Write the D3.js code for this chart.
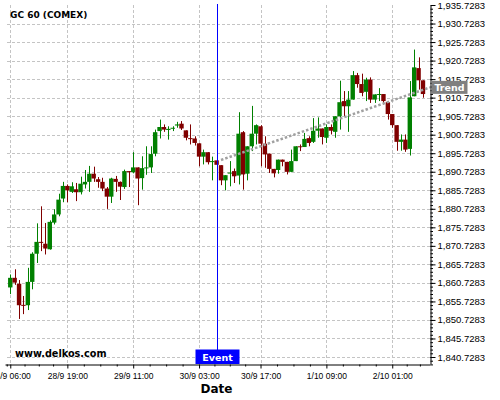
<!DOCTYPE html>
<html>
<head>
<meta charset="utf-8">
<script src="https://cdn.jsdelivr.net/npm/d3@7"></script>
<style>
  body { margin: 0; background: #fff; }
  svg { display: block; font-family: "DejaVu Sans", sans-serif; }
</style>
</head>
<body>
<div id="chart"></div>
<script>
// hourly candles, GC 60 (COMEX)
const open  = [1859.5,1862.1,1860.5,1854.8,1854.7,1861.0,1868.6,1871.8,1871.3,1869.8,1877.0,1879.2,1883.5,1886.9,1885.3,1886.0,1885.2,1887.3,1888.0,1890.2,1888.7,1888.0,1886.2,1884.0,1888.8,1888.0,1886.6,1890.9,1890.6,1891.9,1889.0,1891.7,1891.9,1895.6,1901.7,1902.8,1902.0,1902.4,1903.2,1903.7,1901.9,1899.8,1899.7,1898.4,1894.8,1896.0,1893.4,1893.8,1892.5,1888.4,1890.3,1890.9,1889.7,1901.4,1890.2,1897.6,1901.0,1903.0,1898.3,1895.6,1891.5,1891.2,1894.0,1893.4,1890.7,1893.6,1897.6,1897.4,1899.8,1898.8,1901.8,1902.4,1899.9,1902.8,1901.5,1905.7,1909.8,1908.4,1910.2,1916.8,1914.4,1912.3,1915.6,1910.2,1911.5,1911.7,1909.5,1906.3,1903.3,1898.8,1899.4,1896.9,1911.1,1918.7,1915.4];
const high  = [1863.0,1864.4,1861.5,1857.2,1864.8,1869.0,1876.8,1881.4,1876.9,1877.6,1880.6,1884.8,1888.0,1887.3,1887.9,1887.7,1889.4,1891.2,1892.3,1892.1,1889.3,1889.1,1886.6,1889.1,1889.6,1888.1,1891.3,1890.9,1896.0,1891.9,1894.9,1897.6,1897.6,1902.1,1904.8,1903.5,1903.0,1903.0,1904.2,1904.4,1901.9,1903.5,1900.3,1898.4,1896.7,1896.0,1894.8,1893.8,1892.5,1889.8,1893.6,1891.6,1906.8,1901.7,1897.6,1908.5,1903.5,1903.3,1900.3,1895.6,1891.5,1894.0,1894.0,1893.4,1896.7,1897.6,1898.1,1901.2,1900.3,1905.2,1905.4,1902.4,1903.5,1903.5,1905.7,1915.3,1912.5,1912.5,1917.9,1917.4,1917.2,1916.1,1916.2,1911.6,1913.3,1911.7,1909.5,1906.3,1903.3,1900.8,1900.8,1915.2,1923.7,1921.6,1915.4];
const low   = [1857.7,1860.2,1851.0,1852.3,1853.4,1859.0,1866.1,1869.3,1868.4,1869.7,1876.5,1878.7,1882.5,1882.5,1885.0,1882.8,1884.6,1886.2,1885.3,1888.0,1886.4,1885.5,1880.7,1882.3,1885.3,1883.1,1886.1,1886.6,1890.3,1881.7,1885.9,1889.9,1890.4,1894.9,1899.7,1901.5,1899.4,1901.7,1902.6,1902.0,1899.2,1898.1,1897.8,1892.2,1892.7,1892.7,1888.4,1892.5,1887.1,1885.7,1886.8,1887.7,1887.3,1885.9,1888.4,1896.3,1898.1,1892.2,1891.8,1890.4,1889.2,1890.2,1892.2,1890.0,1890.6,1893.6,1896.3,1897.4,1897.6,1898.5,1899.9,1898.1,1898.5,1900.8,1899.9,1902.1,1905.7,1901.5,1910.2,1913.4,1911.1,1909.8,1909.3,1909.3,1909.8,1908.9,1904.8,1902.6,1896.4,1896.4,1896.1,1895.1,1911.1,1912.9,1910.7];
const close = [1862.1,1860.8,1854.7,1854.6,1861.0,1868.6,1871.8,1871.6,1870.0,1877.2,1879.2,1883.2,1886.9,1885.7,1886.8,1885.2,1887.5,1888.0,1890.2,1888.9,1888.0,1886.2,1884.0,1888.9,1888.0,1886.7,1890.9,1890.6,1891.9,1888.9,1891.7,1891.9,1895.5,1901.4,1902.8,1902.1,1902.3,1902.6,1903.5,1902.4,1899.9,1899.6,1898.5,1894.8,1896.0,1893.3,1893.6,1892.6,1888.4,1889.8,1890.5,1889.5,1901.0,1890.0,1897.6,1901.0,1903.3,1898.3,1895.4,1891.5,1890.3,1894.0,1893.4,1890.7,1893.6,1897.6,1897.4,1899.6,1898.5,1901.8,1902.4,1900.1,1902.8,1901.8,1905.7,1909.5,1908.4,1910.2,1916.8,1914.4,1912.0,1915.6,1910.2,1911.6,1911.7,1909.8,1906.3,1903.3,1898.8,1899.4,1896.7,1910.8,1918.9,1915.4,1911.7];

// x axis labels sit on candle indices
const xLabelIdx = [0, 13, 28, 43, 57, 72, 87];
const xLabels = ["28/9 06:00", "28/9 19:00", "29/9 11:00", "30/9 03:00", "30/9 17:00", "1/10 09:00", "2/10 01:00"];
const xMinorIdx = [-0.8, 3.25, 6.5, 9.75, 16.75, 20.5, 24.25, 31.75, 35.5, 39.25, 46.5, 50, 53.5, 60.75, 64.5, 68.25, 75.75, 79.5, 83.25, 90.3, 93.3];

const yTicks = d3.range(0, 20).map(k => 1840.7283 + 5 * k);
const yMinor = d3.range(0, 97).map(k => 1838.7283 + k);

const eventIdx = 47;
const trendIdx = [48, 95.6];
const trendVal = [1893.9, 1913.5];

const width = 500, height = 400;
const plot = { left: 5, right: 430, top: 5, bottom: 364 };

const svg = d3.select("#chart").append("svg")
    .attr("width", width)
    .attr("height", height);

const x = d3.scaleLinear().domain([-1.2, 95.6]).range([plot.left, plot.right]);
const y = d3.scaleLinear().domain([1838.84, 1935.73]).range([plot.bottom, plot.top]);

// grid
const grid = svg.append("g")
    .attr("stroke", "#c4c4c4")
    .attr("stroke-width", 1)
    .attr("shape-rendering", "crispEdges")
    .attr("stroke-dasharray", "3,2");

grid.selectAll("line.h")
    .data(yTicks.slice(0, -1))
    .enter().append("line")
    .attr("x1", 7).attr("x2", plot.right)
    .attr("y1", d => Math.round(y(d)) + 0.5)
    .attr("y2", d => Math.round(y(d)) + 0.5);

grid.selectAll("line.v")
    .data(xLabelIdx)
    .enter().append("line")
    .attr("x1", d => Math.round(x(d)) + 0.5)
    .attr("x2", d => Math.round(x(d)) + 0.5)
    .attr("y1", plot.top).attr("y2", plot.bottom);

// candles
const data = open.map((o, i) => ({ i: i, o: o, h: high[i], l: low[i], c: close[i] }));
const bw = 4.4;
const candles = svg.append("g").selectAll("g")
    .data(data)
    .enter().append("g")
    .attr("fill", d => d.c >= d.o ? "#008000" : "#800000")
    .attr("stroke", d => d.c >= d.o ? "#008000" : "#800000");

candles.append("line")
    .attr("x1", d => Math.round(x(d.i)) + 0.5)
    .attr("x2", d => Math.round(x(d.i)) + 0.5)
    .attr("y1", d => y(d.h))
    .attr("y2", d => y(d.l))
    .attr("stroke-width", 1);

candles.append("rect")
    .attr("stroke", "none")
    .attr("x", d => x(d.i) - bw / 2)
    .attr("width", bw)
    .attr("y", d => y(Math.max(d.o, d.c)))
    .attr("height", d => Math.max(1, Math.abs(y(d.o) - y(d.c))));

// trend line
svg.append("line")
    .attr("x1", x(trendIdx[0])).attr("y1", y(trendVal[0]))
    .attr("x2", x(trendIdx[1])).attr("y2", y(trendVal[1]))
    .attr("stroke", "#a0a0a0")
    .attr("stroke-width", 2.5)
    .attr("stroke-dasharray", "2.5,2");

// event line
svg.append("rect")
    .attr("x", Math.round(x(eventIdx)))
    .attr("y", 4)
    .attr("width", 1)
    .attr("height", plot.bottom - 4)
    .attr("fill", "#0000ff");

// axes
const yAxis = d3.axisRight(y)
    .tickValues(yTicks)
    .tickSize(5)
    .tickSizeOuter(0)
    .tickPadding(2)
    .tickFormat(d3.format(",.4f"));

const yAxisG = svg.append("g")
    .attr("transform", `translate(${plot.right + 0.5},0)`)
    .call(yAxis);
yAxisG.selectAll("text").attr("font-size", "9.5px").attr("fill", "#000");

svg.append("g")
    .attr("transform", `translate(${plot.right + 0.5},0)`)
    .call(d3.axisRight(y).tickValues(yMinor).tickSize(2.5).tickSizeOuter(0).tickFormat(""))
    .call(g => g.select(".domain").remove());

const xAxis = d3.axisBottom(x)
    .tickValues(xLabelIdx)
    .tickSize(4)
    .tickSizeOuter(0)
    .tickPadding(4)
    .tickFormat((d, i) => xLabels[i]);

const xAxisG = svg.append("g")
    .attr("transform", `translate(0,${plot.bottom + 0.5})`)
    .call(xAxis);
xAxisG.selectAll("text").attr("font-size", "8.5px").attr("fill", "#000");

svg.append("g")
    .attr("transform", `translate(0,${plot.bottom + 0.5})`)
    .call(d3.axisBottom(x).tickValues(xMinorIdx).tickSize(2).tickFormat(""))
    .call(g => g.select(".domain").remove());

// event label
const ex = Math.round(x(eventIdx)) + 0.5;
svg.append("rect")
    .attr("x", ex - 22).attr("y", 349.5)
    .attr("width", 44).attr("height", 14.5)
    .attr("fill", "#0000ff");
svg.append("text")
    .attr("x", ex).attr("y", 360.5)
    .attr("text-anchor", "middle")
    .attr("font-size", "9.5px")
    .attr("font-weight", "bold")
    .attr("fill", "#fff")
    .text("Event");

// trend label
const ty = y(trendVal[1]);
svg.append("rect")
    .attr("x", 431.5).attr("y", ty - 6.5)
    .attr("width", 36).attr("height", 13)
    .attr("fill", "#808080");
svg.append("text")
    .attr("x", 449.5).attr("y", ty + 3.5)
    .attr("text-anchor", "middle")
    .attr("font-size", "9.5px")
    .attr("font-weight", "bold")
    .attr("fill", "#fff")
    .text("Trend");

// titles
svg.append("text")
    .attr("x", 10).attr("y", 18)
    .attr("font-size", "9px")
    .attr("font-weight", "bold")
    .text("GC 60 (COMEX)");

svg.append("text")
    .attr("x", 15).attr("y", 357)
    .attr("font-size", "9.7px")
    .attr("font-weight", "bold")
    .text("www.delkos.com");

svg.append("text")
    .attr("x", 216.5).attr("y", 393)
    .attr("text-anchor", "middle")
    .attr("font-size", "12px")
    .attr("font-weight", "bold")
    .text("Date");
</script>
</body>
</html>
